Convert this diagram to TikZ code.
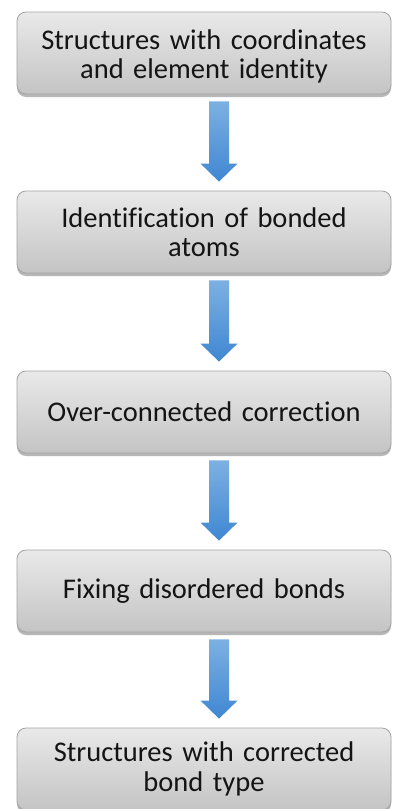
\documentclass[tikz,border=0pt]{standalone}
\usepackage{fontspec}
\setmainfont{Carlito}[Ligatures=NoCommon]
\usetikzlibrary{calc,shadows}
\definecolor{boxtop}{HTML}{E9E9E9}
\definecolor{boxbot}{HTML}{C4C4C4}
\definecolor{boxline}{HTML}{A3A3A3}
\definecolor{arrtop}{HTML}{7DB0E2}
\definecolor{arrbot}{HTML}{3F87D2}
\tikzset{
  stepbox/.style={rectangle, rounded corners=9pt, minimum width=374pt, minimum height=82pt,
    draw=boxline, line width=0.8pt, top color=boxtop, bottom color=boxbot,
    drop shadow={shadow xshift=0pt, shadow yshift=-3pt, opacity=0.4, fill=black!70},
    align=center, text width=370pt, inner sep=0pt,
    font=\fontsize{28.5}{29.5}\selectfont, text=black!92},
  blockarrow/.style={top color=arrtop, bottom color=arrbot, draw=none}
}
\newcommand\flowarrow[2]{%
  \path[blockarrow]
    ($(#1.south)+(5,7)$) -- ($(#1.south)+(25,7)$) -- ($(#2.north)+(25,-27)$)
    -- ($(#2.north)+(33.5,-27)$) -- ($(#2.north)+(15,-9)$)
    -- ($(#2.north)+(-3.5,-27)$) -- ($(#2.north)+(5,-27)$) -- cycle;}
\begin{document}
\begin{tikzpicture}[x=1pt,y=-1pt]
  \useasboundingbox[fill=white] (0,0) rectangle (392,809);
  \node[stepbox] (b1) at (204,53)  {\rule{0pt}{27pt}Structures with coordinates\\and element identity};
  \node[stepbox] (b2) at (204,232) {Identification of bonded\\atoms};
  \node[stepbox] (b3) at (204,412) {Over-connected correction};
  \node[stepbox] (b4) at (204,591) {Fixing disordered bonds};
  \node[stepbox] (b5) at (204,769) {Structures with corrected\\bond type};
  \flowarrow{b1}{b2}
  \flowarrow{b2}{b3}
  \flowarrow{b3}{b4}
  \flowarrow{b4}{b5}
\end{tikzpicture}
\end{document}
